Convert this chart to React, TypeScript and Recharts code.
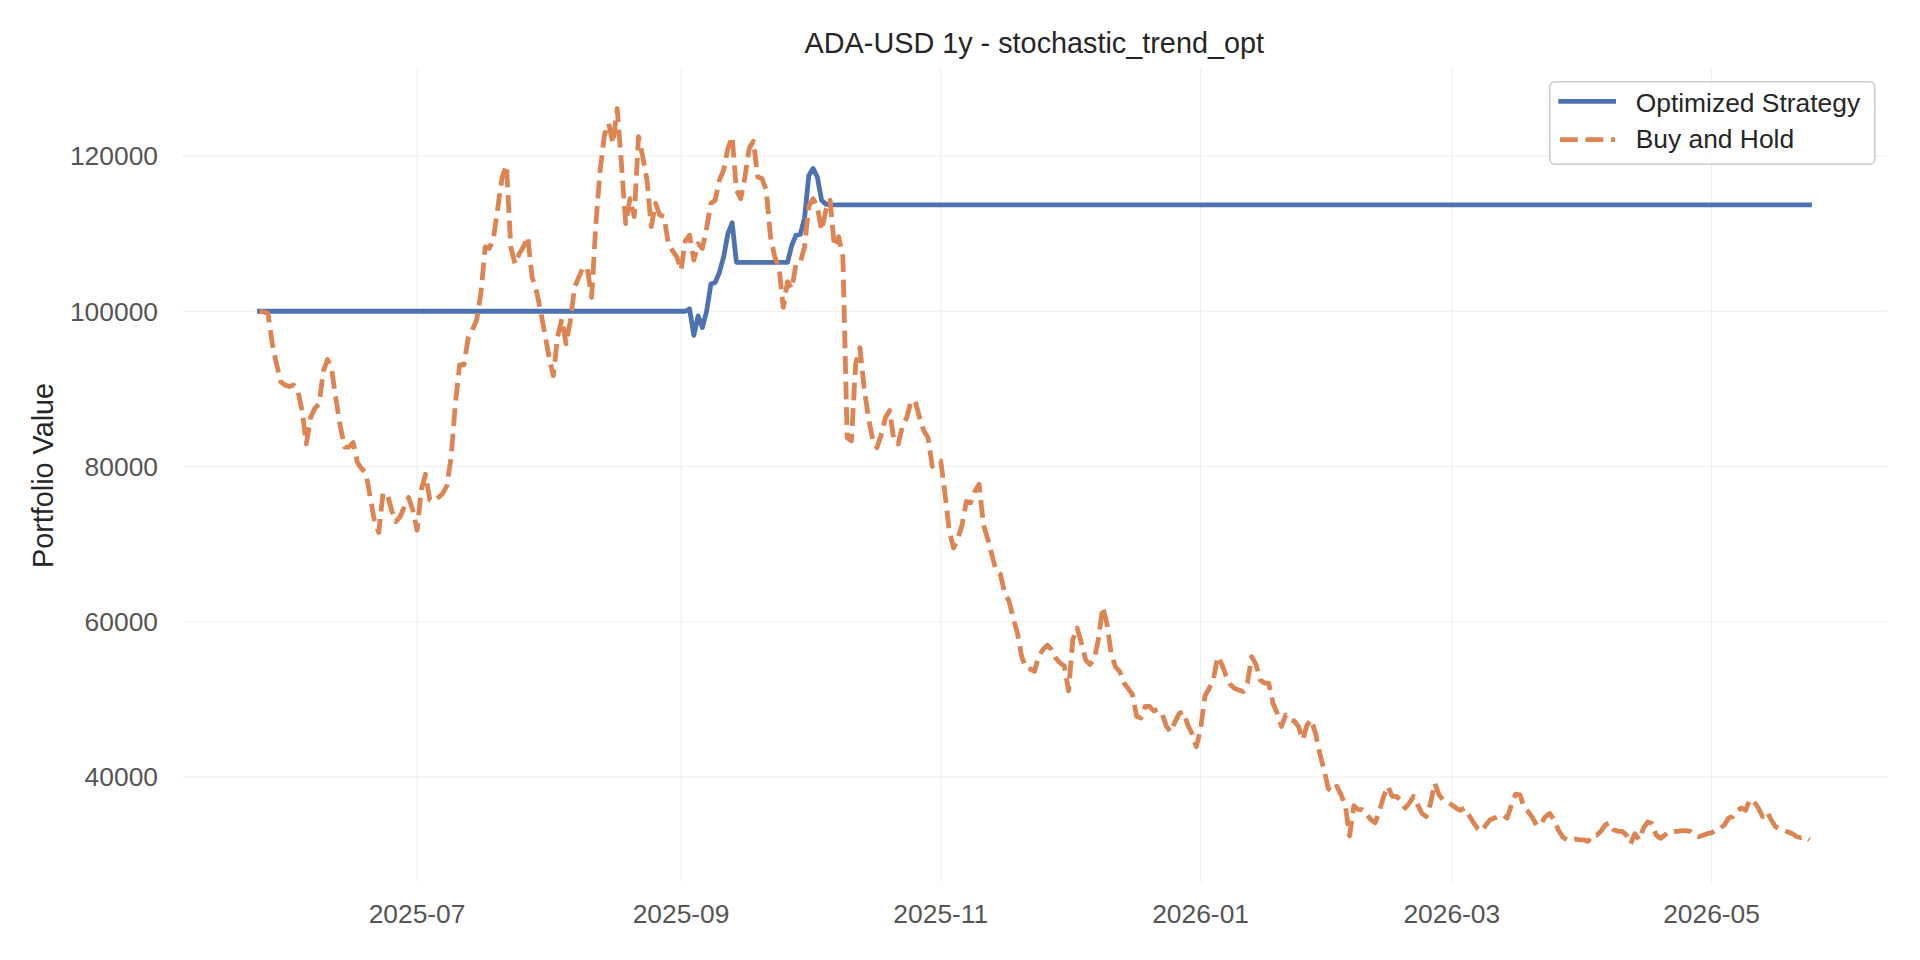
import React from 'react';
import { LineChart, Line, XAxis, YAxis, CartesianGrid, Legend } from 'recharts';

const TITLE = 'ADA-USD 1y - stochastic_trend_opt';
const Y_LABEL = 'Portfolio Value';
const SERIES_NAMES = ['Optimized Strategy', 'Buy and Hold'];
const START_DATE = '2025-05-25';
const X_TICK_LABELS = ['2025-07', '2025-09', '2025-11', '2026-01', '2026-03', '2026-05'];
const Y_TICKS = [40000, 60000, 80000, 100000, 120000];
const Y_DOMAIN = [26470, 131210];

// Optimized Strategy, one value per day from START_DATE
const STRATEGY = [
  100000, 100000, 100000, 100000, 100000, 100000, 100000, 100000, 100000, 100000,
  100000, 100000, 100000, 100000, 100000, 100000, 100000, 100000, 100000, 100000,
  100000, 100000, 100000, 100000, 100000, 100000, 100000, 100000, 100000, 100000,
  100000, 100000, 100000, 100000, 100000, 100000, 100000, 100000, 100000, 100000,
  100000, 100000, 100000, 100000, 100000, 100000, 100000, 100000, 100000, 100000,
  100000, 100000, 100000, 100000, 100000, 100000, 100000, 100000, 100000, 100000,
  100000, 100000, 100000, 100000, 100000, 100000, 100000, 100000, 100000, 100000,
  100000, 100000, 100000, 100000, 100000, 100000, 100000, 100000, 100000, 100000,
  100000, 100000, 100000, 100000, 100000, 100000, 100000, 100000, 100000, 100000,
  100000, 100000, 100000, 100000, 100000, 100000, 100000, 100000, 100000, 100000,
  100000, 100300, 96900, 99400, 97900, 100000, 103500, 103700, 105000, 107000,
  110000, 111400, 106300, 106300, 106300, 106300, 106300, 106300, 106300, 106300,
  106300, 106300, 106300, 106300, 106300, 108500, 109800, 109900, 112000, 117500,
  118400, 117300, 114300, 113800, 113700, 113700, 113700, 113700, 113700, 113700,
  113700, 113700, 113700, 113700, 113700, 113700, 113700, 113700, 113700, 113700,
  113700, 113700, 113700, 113700, 113700, 113700, 113700, 113700, 113700, 113700,
  113700, 113700, 113700, 113700, 113700, 113700, 113700, 113700, 113700, 113700,
  113700, 113700, 113700, 113700, 113700, 113700, 113700, 113700, 113700, 113700,
  113700, 113700, 113700, 113700, 113700, 113700, 113700, 113700, 113700, 113700,
  113700, 113700, 113700, 113700, 113700, 113700, 113700, 113700, 113700, 113700,
  113700, 113700, 113700, 113700, 113700, 113700, 113700, 113700, 113700, 113700,
  113700, 113700, 113700, 113700, 113700, 113700, 113700, 113700, 113700, 113700,
  113700, 113700, 113700, 113700, 113700, 113700, 113700, 113700, 113700, 113700,
  113700, 113700, 113700, 113700, 113700, 113700, 113700, 113700, 113700, 113700,
  113700, 113700, 113700, 113700, 113700, 113700, 113700, 113700, 113700, 113700,
  113700, 113700, 113700, 113700, 113700, 113700, 113700, 113700, 113700, 113700,
  113700, 113700, 113700, 113700, 113700, 113700, 113700, 113700, 113700, 113700,
  113700, 113700, 113700, 113700, 113700, 113700, 113700, 113700, 113700, 113700,
  113700, 113700, 113700, 113700, 113700, 113700, 113700, 113700, 113700, 113700,
  113700, 113700, 113700, 113700, 113700, 113700, 113700, 113700, 113700, 113700,
  113700, 113700, 113700, 113700, 113700, 113700, 113700, 113700, 113700, 113700,
  113700, 113700, 113700, 113700, 113700, 113700, 113700, 113700, 113700, 113700,
  113700, 113700, 113700, 113700, 113700, 113700, 113700, 113700, 113700, 113700,
  113700, 113700, 113700, 113700, 113700, 113700, 113700, 113700, 113700, 113700,
  113700, 113700, 113700, 113700, 113700, 113700, 113700, 113700, 113700, 113700,
  113700, 113700, 113700, 113700, 113700, 113700, 113700, 113700, 113700, 113700,
  113700, 113700, 113700, 113700, 113700,
];

// Buy and Hold, one value per day from START_DATE
const BUY_HOLD = [
  100000, 99900, 99700, 95800, 93200, 90900, 90500, 90300, 90500, 89800,
  87200, 82900, 86300, 87500, 88100, 92300, 93800, 92300, 88500, 85100,
  82500, 82500, 83100, 80500, 79700, 79200, 76000, 73000, 71500, 76500,
  76500, 74400, 72900, 73500, 74800, 76000, 74400, 71800, 77000, 79000,
  75700, 75500, 76000, 76500, 77500, 81200, 88100, 93100, 93100, 96500,
  97600, 98900, 102300, 108300, 108100, 109600, 113500, 117300, 118800, 108300,
  106100, 107400, 108300, 109600, 104400, 102700, 100100, 97100, 94100, 91700,
  96700, 99000, 95800, 98800, 103100, 104400, 105700, 105500, 101800, 111300,
  118200, 122700, 124200, 121600, 126100, 119000, 111300, 114500, 112200, 122500,
  119900, 116900, 110900, 113900, 112400, 112200, 108700, 107800, 107000, 105300,
  109100, 109800, 106600, 108700, 108100, 110700, 113900, 114300, 116900, 118200,
  121000, 122500, 115600, 114500, 117300, 121000, 121900, 117300, 117100, 115600,
  109600, 107000, 105700, 100500, 103800, 102900, 106100, 106300, 108300, 113500,
  114500, 113500, 110400, 113000, 114300, 108300, 109600, 107000, 83700, 83300,
  93200, 95300, 90100, 86300, 83500, 82400, 84100, 86300, 87200, 83300,
  82900, 85200, 86300, 88400, 88400, 86300, 84600, 83700, 80000, 80500,
  80700, 76400, 71600, 69500, 70700, 72500, 75500, 75300, 76800, 77700,
  72500, 70700, 68600, 66500, 66100, 63700, 62700, 60500, 58500, 55500,
  54000, 53900, 53600, 55600, 56400, 57000, 56400, 55300, 54700, 54300,
  51100, 57700, 59200, 57300, 55100, 54500, 55100, 57700, 61900, 59800,
  55900, 54200, 53600, 52100, 51400, 50600, 47800, 47600, 49100, 49100,
  48500, 48700, 48100, 46500, 45800, 47100, 48200, 48400, 46700, 45600,
  43900, 46100, 50400, 51400, 52500, 55500, 54500, 53000, 51900, 51400,
  51200, 51000, 52100, 55500, 54500, 52500, 52100, 52100, 49500, 48200,
  46500, 48000, 47400, 47200, 46500, 44800, 46700, 47400, 45600, 43000,
  40900, 38500, 38100, 38800, 37700, 36300, 32400, 36300, 35800, 35800,
  35200, 34500, 34100, 35600, 37500, 38800, 37500, 37500, 37000, 36000,
  36600, 37500, 36400, 35300, 34900, 36600, 39200, 37700, 37000, 36800,
  36400, 36000, 35700, 36000, 35100, 34200, 33400, 33000, 33800, 34500,
  34700, 34900, 35100, 34700, 36400, 37800, 37700, 36000, 35500, 34700,
  33700, 34000, 34900, 35300, 34500, 33200, 32300, 31900, 31900, 32000,
  31900, 31900, 31700, 32500, 32500, 33000, 33800, 34100, 33200, 33000,
  33000, 32500, 31400, 32700, 31900, 33400, 34200, 34000, 32500, 32100,
  32500, 33000, 33000, 33000, 33100, 33100, 33000, 32500, 32300, 32500,
  32700, 32800, 33200, 33400, 33800, 34700, 34900, 35700, 36000, 35700,
  37100, 36800, 36000, 34900, 35500, 34500, 33600, 33300, 33100, 32900,
  32700, 32300, 32200, 32300, 31900,
];

const BLUE = '#4C72B0';
const ORANGE = '#DD8452';
const FONT = '"Liberation Sans", Arial, Helvetica, sans-serif';
const DASH = '17.8 7.7';

const DAY_MS = 86400000;
const startMs = Date.parse(START_DATE + 'T00:00:00Z');
const dayOf = (s: string) => Math.round((Date.parse(s + 'T00:00:00Z') - startMs) / DAY_MS);
const fmtDay = (d: number) => new Date(startMs + Math.round(d) * DAY_MS).toISOString().slice(0, 7);

const data = BUY_HOLD.map((v, i) => ({ day: i, strategy: STRATEGY[i], buyHold: v }));
const span = data.length - 1;
const X_DOMAIN = [-0.05 * span, span * 1.05];
const X_TICKS = X_TICK_LABELS.map((l) => dayOf(l + '-01'));

const renderLegend = () => (
  <svg width={328} height={86} style={{ display: 'block', overflow: 'visible' }}>
    <rect x={0.8} y={0.8} width={325} height={82.5} rx={5} ry={5}
      fill="rgba(255,255,255,0.8)" stroke="#cccccc" strokeWidth={1.6} />
    <line x1={11.7} x2={64.6} y1={20.3} y2={20.3} stroke={BLUE} strokeWidth={4.8} strokeLinecap="square" />
    <line x1={11} x2={66} y1={58.6} y2={58.6} stroke={ORANGE} strokeWidth={4.8} strokeDasharray={DASH} />
    <text x={86.7} y={31} fontSize={26.4} fontFamily={FONT} fill="#262626">{SERIES_NAMES[0]}</text>
    <text x={86.7} y={66.6} fontSize={26.4} fontFamily={FONT} fill="#262626">{SERIES_NAMES[1]}</text>
  </svg>
);

export default function App() {
  const tickStyle = { fill: '#555555', fontSize: 26.4, fontFamily: FONT };
  return (
    <div style={{ position: 'absolute', left: 0, top: 0, width: 1920, height: 960, background: '#ffffff', fontFamily: FONT }}>
      <LineChart width={1920} height={960} data={data} margin={{ top: 69, right: 33, bottom: 0, left: 0 }}>
        <CartesianGrid stroke="#ededed" strokeWidth={1} horizontalValues={Y_TICKS} verticalValues={X_TICKS} />
        <XAxis
          dataKey="day"
          type="number"
          domain={X_DOMAIN}
          ticks={X_TICKS}
          tickFormatter={fmtDay}
          allowDataOverflow
          interval={0}
          axisLine={false}
          tickLine={false}
          tickSize={0}
          tickMargin={22}
          height={78}
          tick={tickStyle}
        />
        <YAxis
          type="number"
          domain={Y_DOMAIN}
          ticks={Y_TICKS}
          allowDataOverflow
          interval={0}
          axisLine={false}
          tickLine={false}
          tickSize={0}
          tickMargin={24}
          width={182}
          tick={tickStyle}
        />
        <Legend
          layout="vertical"
          align="center"
          verticalAlign="middle"
          wrapperStyle={{ left: 1549, top: 80.7, width: 328, height: 86 }}
          content={renderLegend}
        />
        <Line
          type="linear"
          dataKey="strategy"
          name={SERIES_NAMES[0]}
          stroke={BLUE}
          strokeWidth={4.8}
          strokeLinecap="square"
          strokeLinejoin="round"
          dot={false}
          activeDot={false}
          isAnimationActive={false}
        />
        <Line
          type="linear"
          dataKey="buyHold"
          name={SERIES_NAMES[1]}
          stroke={ORANGE}
          strokeWidth={4.8}
          strokeDasharray={DASH}
          strokeLinejoin="round"
          dot={false}
          activeDot={false}
          isAnimationActive={false}
        />
      </LineChart>
      <svg width={1920} height={960} style={{ position: 'absolute', left: 0, top: 0, pointerEvents: 'none' }}>
        <text x={1034.3} y={53.3} textAnchor="middle" fontSize={28.8} fontFamily={FONT} fill="#262626">{TITLE}</text>
        <text transform="translate(52.7,475.5) rotate(-90)" textAnchor="middle" fontSize={28.8} fontFamily={FONT} fill="#262626">{Y_LABEL}</text>
      </svg>
    </div>
  );
}
